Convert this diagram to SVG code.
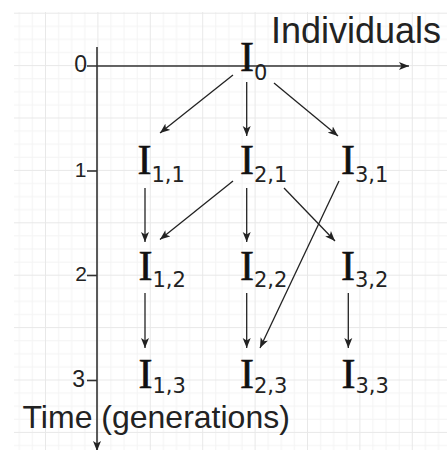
<svg xmlns="http://www.w3.org/2000/svg" width="447" height="450" viewBox="0 0 447 450">
<defs>
<pattern id="grid" x="45" y="12.7" width="52.4" height="52.4" patternUnits="userSpaceOnUse">
<rect x="13.1" y="0" width="1" height="52.4" fill="#f3f3f3"/>
<rect x="26.2" y="0" width="1" height="52.4" fill="#f3f3f3"/>
<rect x="39.3" y="0" width="1" height="52.4" fill="#f3f3f3"/>
<rect x="0" y="13.1" width="52.4" height="1" fill="#f3f3f3"/>
<rect x="0" y="26.2" width="52.4" height="1" fill="#f3f3f3"/>
<rect x="0" y="39.3" width="52.4" height="1" fill="#f3f3f3"/>
<rect x="0" y="0" width="1" height="52.4" fill="#e8e8e8"/>
<rect x="0" y="0" width="52.4" height="1" fill="#e8e8e8"/>
</pattern>
<marker id="ah" markerWidth="11" markerHeight="9" refX="10" refY="4.5" orient="auto" markerUnits="userSpaceOnUse">
<path d="M0,0.5 L10,4.5 L0,8.5 L2.5,4.5 Z" fill="#222"/>
</marker>
</defs>
<style>
.I{font-family:"Liberation Serif","Times New Roman",serif;font-size:42px;fill:#111;stroke:#111;stroke-width:0.6}
.sub{font-family:"DejaVu Sans","Verdana",sans-serif;font-size:21px;fill:#222;stroke:none}
.lbl{font-family:"Liberation Sans",Arial,sans-serif;fill:#222}
.axis{stroke:#333;stroke-width:1.6;fill:none}
.edge{stroke:#222;stroke-width:1.3;fill:none;marker-end:url(#ah)}
</style>
<rect x="0" y="0" width="447" height="450" fill="#fff"/>
<rect x="14" y="12" width="433" height="438" fill="url(#grid)"/>

<g id="axes">
<line class="axis" x1="87" y1="66" x2="409" y2="66" marker-end="url(#ah)"/>
<line class="axis" x1="97" y1="47" x2="97" y2="451" marker-end="url(#ah)"/>
<line class="axis" x1="87" y1="171" x2="97" y2="171"/>
<line class="axis" x1="87" y1="275.5" x2="97" y2="275.5"/>
<line class="axis" x1="87" y1="380.5" x2="97" y2="380.5"/>
<text class="lbl" x="87" y="71.5" font-size="23" text-anchor="end">0</text>
<text class="lbl" x="86.5" y="177" font-size="21" text-anchor="end">1</text>
<text class="lbl" x="87" y="280.5" font-size="21" text-anchor="end">2</text>
<text class="lbl" x="85" y="387" font-size="23" text-anchor="end">3</text>
<text class="lbl" x="441" y="43.3" font-size="36" text-anchor="end" fill="#111">Individuals</text>
<text class="lbl" x="22.5" y="428.3" font-size="32" fill="#111">Time (generations)</text>
</g>

<g id="connectors">
<line class="edge" x1="233" y1="75" x2="160" y2="133"/>
<line class="edge" x1="246.7" y1="82" x2="246.7" y2="136"/>
<line class="edge" x1="274" y1="83" x2="338" y2="136"/>
<line class="edge" x1="145" y1="188" x2="145" y2="242"/>
<line class="edge" x1="233" y1="181" x2="160" y2="239.5"/>
<line class="edge" x1="246.7" y1="188" x2="246.7" y2="242"/>
<line class="edge" x1="284" y1="188" x2="335" y2="241"/>
<line class="edge" x1="339" y1="181" x2="260" y2="348"/>
<line class="edge" x1="145" y1="293" x2="145" y2="348"/>
<line class="edge" x1="246.7" y1="293" x2="246.7" y2="348"/>
<line class="edge" x1="348.3" y1="293" x2="348.3" y2="348"/>
</g>

<g id="I0"><text class="I" x="240" y="71">I<tspan class="sub" y="80">0</tspan></text></g>
<g id="I11"><text class="I" x="137.5" y="173.5">I<tspan class="sub" y="182">1,1</tspan></text></g>
<g id="I21"><text class="I" x="240" y="173.5">I<tspan class="sub" y="182">2,1</tspan></text></g>
<g id="I31"><text class="I" x="341" y="173.5">I<tspan class="sub" y="182">3,1</tspan></text></g>
<g id="I12"><text class="I" x="138.5" y="280">I<tspan class="sub" y="287">1,2</tspan></text></g>
<g id="I22"><text class="I" x="240" y="280">I<tspan class="sub" y="287">2,2</tspan></text></g>
<g id="I32"><text class="I" x="341" y="280">I<tspan class="sub" y="287">3,2</tspan></text></g>
<g id="I13"><text class="I" x="138.5" y="388.3">I<tspan class="sub" y="393">1,3</tspan></text></g>
<g id="I23"><text class="I" x="240" y="388.3">I<tspan class="sub" y="393">2,3</tspan></text></g>
<g id="I33"><text class="I" x="341.5" y="388.3">I<tspan class="sub" y="393">3,3</tspan></text></g>
</svg>
